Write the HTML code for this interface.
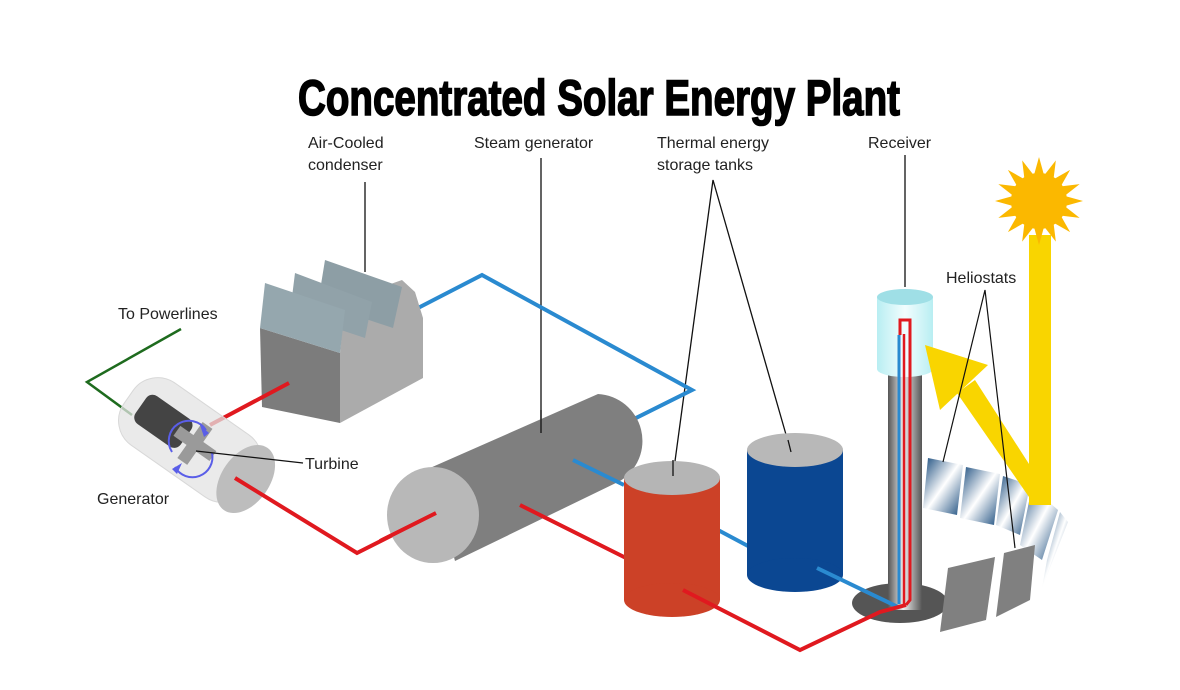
<!DOCTYPE html>
<html><head><meta charset="utf-8"><style>
html,body{margin:0;padding:0;background:#fff;width:1180px;height:690px;overflow:hidden}
svg{display:block}
text{font-family:"Liberation Sans",sans-serif;font-size:16px;fill:#222}
</style></head><body>
<svg width="1180" height="690" viewBox="0 0 1180 690" xmlns="http://www.w3.org/2000/svg">
<defs>
<linearGradient id="hel" x1="0" y1="0" x2="1" y2="1">
<stop offset="0" stop-color="#174a7c"/><stop offset="0.5" stop-color="#ffffff"/><stop offset="1" stop-color="#174a7c"/>
</linearGradient>
<linearGradient id="col" x1="0" y1="0" x2="1" y2="0">
<stop offset="0" stop-color="#555"/><stop offset="0.45" stop-color="#eee"/><stop offset="1" stop-color="#555"/>
</linearGradient>
<linearGradient id="rec" x1="0" y1="0" x2="1" y2="0">
<stop offset="0" stop-color="#b8eef2"/><stop offset="0.5" stop-color="#f2fdfe"/><stop offset="1" stop-color="#b8eef2"/>
</linearGradient>
</defs>

<text x="298" y="115" textLength="602" lengthAdjust="spacingAndGlyphs" style="font-family:'Liberation Sans Narrow','Liberation Sans',sans-serif;font-weight:bold;font-size:50px;fill:#000;stroke:#000;stroke-width:1.6">Concentrated Solar Energy Plant</text>

<text x="308" y="148">Air-Cooled</text>
<text x="308" y="170">condenser</text>
<text x="474" y="148">Steam generator</text>
<text x="657" y="148">Thermal energy</text>
<text x="657" y="170">storage tanks</text>
<text x="868" y="148">Receiver</text>
<text x="946" y="283">Heliostats</text>
<text x="118" y="319">To Powerlines</text>
<text x="305" y="469">Turbine</text>
<text x="97" y="504">Generator</text>

<g stroke="#111" stroke-width="1.3" fill="none">
<line x1="365" y1="182" x2="365" y2="272"/>
<line x1="541" y1="158" x2="541" y2="433"/>
<polyline points="673,476 713,180 791,452"/>
<line x1="905" y1="155" x2="905" y2="287"/>
</g>

<polyline points="181,329 87,382 132,415" fill="none" stroke="#1e6b1e" stroke-width="2.5"/>

<polyline points="418,308 482,275 692,390 632,420" fill="none" stroke="#2a8ad0" stroke-width="4"/>

<!-- condenser -->
<polygon points="260,328 340,353 340,423 262,407" fill="#7c7c7c"/>
<polygon points="340,353 345,300 402,280 415,292 423,318 423,378 340,423" fill="#ababab"/>
<polygon points="325,260 402,287 393,328 318,303" fill="#8d9ea5"/>
<polygon points="295,273 372,302 365,338 290,313" fill="#91a2a9"/>
<polygon points="265,283 345,310 340,353 260,328" fill="#95a7ae"/>

<line x1="289" y1="383" x2="210" y2="425" stroke="#e0191f" stroke-width="4"/>

<!-- generator -->
<g transform="translate(190,440) rotate(35)">
<rect x="-75" y="-38" width="150" height="76" rx="30" fill="#e3e3e3" fill-opacity="0.75" stroke="#d8d8d8"/>
<ellipse cx="68" cy="0" rx="24" ry="38" fill="#bdbdbd"/>
<rect x="-60" y="-17" width="55" height="34" rx="8" fill="#444"/>
<rect x="-5" y="-2" width="10" height="4" fill="#c9a640"/>
<rect x="0" y="-22" width="12" height="44" fill="#9a9a9a"/>
<rect x="-16" y="-6" width="44" height="12" fill="#9a9a9a"/>
</g>
<g fill="none" stroke="#5a5ee8" stroke-width="2">
<path d="M172,452 A20,20 0 0 1 206,430"/>
<path d="M212,453 A20,20 0 0 1 175,467"/>
</g>
<polygon points="209,433 200,425 204,437" fill="#5a5ee8"/>
<polygon points="172,469 182,463 177,474" fill="#5a5ee8"/>
<line x1="196" y1="451" x2="303" y2="463" stroke="#111" stroke-width="1.2"/>

<polyline points="235,478 357,553 436,513" fill="none" stroke="#e0191f" stroke-width="4"/>

<!-- steam generator -->
<path d="M430,468 L598,394 A47,47 0 0 1 620,481 L455,561 Z" fill="#7f7f7f"/>
<ellipse cx="433" cy="515" rx="46" ry="48" fill="#b8b8b8"/>
<line x1="436" y1="513" x2="380" y2="541" stroke="#e0191f" stroke-width="4"/>
<line x1="573" y1="460" x2="624" y2="485" stroke="#2a8ad0" stroke-width="4"/>
<line x1="520" y1="505" x2="626" y2="558" stroke="#e0191f" stroke-width="4"/>
<line x1="541" y1="410" x2="541" y2="433" stroke="#111" stroke-width="1.3"/>

<line x1="718" y1="530" x2="748" y2="546" stroke="#2a8ad0" stroke-width="4"/>

<rect x="624" y="478" width="96" height="122" fill="#cc4127"/>
<ellipse cx="672" cy="600" rx="48" ry="17" fill="#cc4127"/>
<ellipse cx="672" cy="478" rx="48" ry="17" fill="#b5b5b5"/>
<line x1="673" y1="460" x2="673" y2="476" stroke="#111" stroke-width="1.3"/>

<rect x="747" y="450" width="96" height="125" fill="#0b4792"/>
<ellipse cx="795" cy="575" rx="48" ry="17" fill="#0b4792"/>
<ellipse cx="795" cy="450" rx="48" ry="17" fill="#b8b8b8"/>
<line x1="788" y1="440" x2="791" y2="452" stroke="#111" stroke-width="1.3"/>

<!-- tower -->
<ellipse cx="900" cy="603" rx="48" ry="20" fill="#555"/>
<rect x="888" y="330" width="34" height="280" fill="url(#col)"/>
<line x1="817" y1="568" x2="898" y2="607" stroke="#2a8ad0" stroke-width="4"/>
<polyline points="683,590 800,650 880,612 906,605" fill="none" stroke="#e0191f" stroke-width="4"/>
<rect x="877" y="297" width="56" height="72" fill="url(#rec)"/>
<ellipse cx="905" cy="369" rx="28" ry="8" fill="url(#rec)"/>
<ellipse cx="905" cy="297" rx="28" ry="8" fill="#9fdfe6"/>
<polyline points="906,605 910,600 910,320 900,320 900,335" fill="none" stroke="#e0191f" stroke-width="3"/>
<line x1="899" y1="335" x2="899" y2="604" stroke="#2a8ad0" stroke-width="3"/>
<line x1="904" y1="334" x2="904" y2="604" stroke="#e0191f" stroke-width="2.5"/>

<!-- heliostats -->
<g fill="url(#hel)">
<polygon points="928,458 963,465 957,515 923,508"/>
<polygon points="966,467 1000,474 994,525 960,518"/>
<polygon points="1003,476 1030,485 1020,535 996,525"/>
<polygon points="1032,487 1058,510 1042,560 1020,545"/>
<polygon points="1060,512 1068,522 1042,588 1047,560"/>
</g>
<g fill="#808080">
<polygon points="948,568 995,557 986,620 940,632"/>
<polygon points="1004,553 1035,545 1030,600 996,617"/>
</g>

<!-- sun beam -->
<g fill="#f9d500">
<rect x="1029" y="235" width="22" height="270"/>
<polygon points="1029,505 1051,505 1047,492 975,380 957,393 1029,497"/>
<polygon points="925,345 988,365 940,410"/>
</g>
<g stroke="#111" stroke-width="1.2" fill="none">
<polyline points="943,462 985,290 1015,548"/>
</g>

<!-- sun -->
<g transform="translate(1039,201)" fill="#fbb800">
<circle r="28"/>
<g id="r"><polygon points="-5,-26 0,-44 5,-26"/></g>
<polygon transform="rotate(22.5)" points="-5,-26 0,-44 5,-26"/>
<polygon transform="rotate(45)" points="-5,-26 0,-44 5,-26"/>
<polygon transform="rotate(67.5)" points="-5,-26 0,-44 5,-26"/>
<polygon transform="rotate(90)" points="-5,-26 0,-44 5,-26"/>
<polygon transform="rotate(112.5)" points="-5,-26 0,-44 5,-26"/>
<polygon transform="rotate(135)" points="-5,-26 0,-44 5,-26"/>
<polygon transform="rotate(157.5)" points="-5,-26 0,-44 5,-26"/>
<polygon transform="rotate(180)" points="-5,-26 0,-44 5,-26"/>
<polygon transform="rotate(202.5)" points="-5,-26 0,-44 5,-26"/>
<polygon transform="rotate(225)" points="-5,-26 0,-44 5,-26"/>
<polygon transform="rotate(247.5)" points="-5,-26 0,-44 5,-26"/>
<polygon transform="rotate(270)" points="-5,-26 0,-44 5,-26"/>
<polygon transform="rotate(292.5)" points="-5,-26 0,-44 5,-26"/>
<polygon transform="rotate(315)" points="-5,-26 0,-44 5,-26"/>
<polygon transform="rotate(337.5)" points="-5,-26 0,-44 5,-26"/>
</g>
</svg>
</body></html>
